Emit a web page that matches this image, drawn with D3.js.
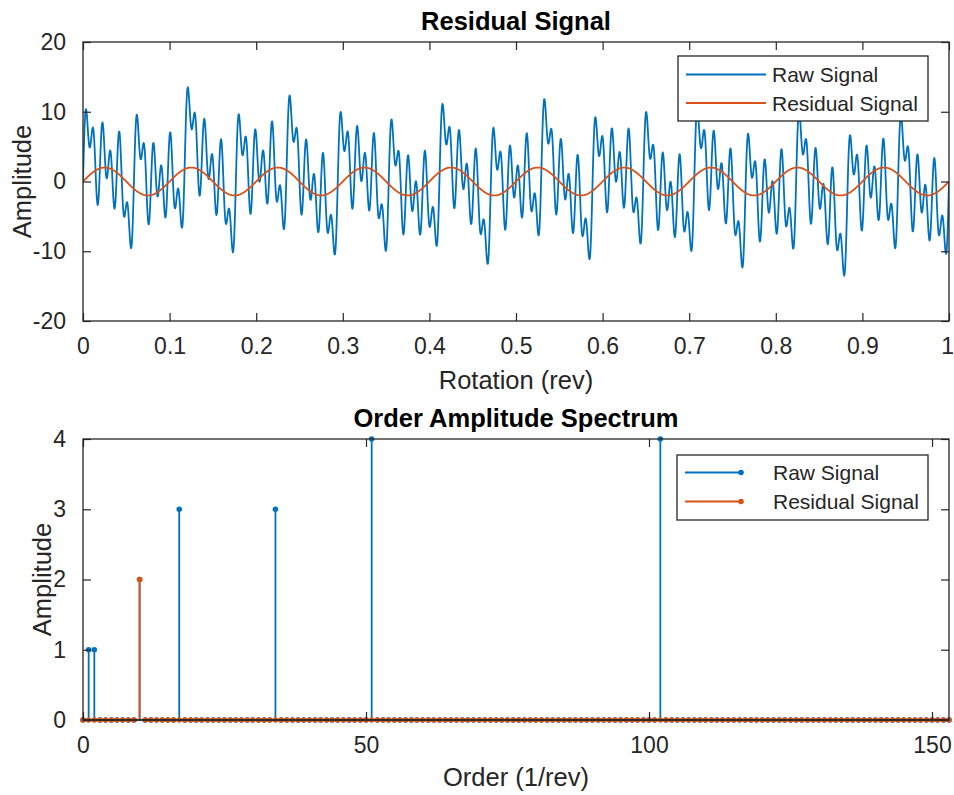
<!DOCTYPE html>
<html>
<head>
<meta charset="utf-8">
<script src="https://cdn.jsdelivr.net/npm/d3@7"></script>
<style>
  html, body { margin: 0; padding: 0; background: #fff; }
  svg { display: block; }
  text { font-family: "Liberation Sans", Arial, Helvetica, sans-serif; fill: #262626; }
</style>
</head>
<body>
<svg id="chart" width="954" height="795"></svg>
<script>
// ---- Data ----
// Order components of the raw signal (order, amplitude) as read from the spectrum stems
const rawOrders = [1, 2, 10, 17, 34, 51, 102];
const rawAmplitudes = [1, 1, 2, 3, 3, 4, 4];
// Residual signal components
const residualOrders = [10];
const residualAmplitudes = [2];
// Spectrum order axis (orders shown as stems, 1/rev resolution)
const maxOrder = 153;
// Tick labels
const topXTicks = [0, 0.1, 0.2, 0.3, 0.4, 0.5, 0.6, 0.7, 0.8, 0.9, 1];
const topYTicks = [-20, -10, 0, 10, 20];
const botXTicks = [0, 50, 100, 150];
const botYTicks = [0, 1, 2, 3, 4];
const seriesNames = ["Raw Signal", "Residual Signal"];
const colors = ["#0072BD", "#D95319"];

// Time signals are the sum of the sine components listed above (one revolution)
const nSamples = 2000;
const rotation = d3.range(nSamples + 1).map(i => i / nSamples);
function synth(orders, amps) {
  return rotation.map(r => orders.reduce((s, k, j) => s + amps[j] * Math.sin(2 * Math.PI * k * r), 0));
}
const rawSignal = synth(rawOrders, rawAmplitudes);
const residualSignal = synth(residualOrders, residualAmplitudes);

// Spectrum arrays (every order 0..maxOrder)
const orderList = d3.range(0, maxOrder + 1);
function spectrum(ordList, ampList) {
  return orderList.map(o => { const i = ordList.indexOf(o); return i >= 0 ? ampList[i] : 0; });
}
const rawSpectrum = spectrum(rawOrders, rawAmplitudes);
const residualSpectrum = spectrum(residualOrders, residualAmplitudes);

// ---- Layout ----
const svg = d3.select("#chart");
svg.append("rect").attr("width", 954).attr("height", 795).attr("fill", "#fff");
const axisColor = "#262626";
const tickLen = 8;
const tickFont = 23, labelFont = 25.5, titleFont = 25.5, legendFont = 21;

function drawAxes(g, x, y, xt, yt, xfmt, yfmt) {
  const [x0, x1] = x.range(), [y0, y1] = y.range(); // y0 bottom, y1 top
  const xa = d3.axisBottom(x).tickValues(xt).tickFormat(xfmt).tickSizeInner(-tickLen).tickSizeOuter(0).tickPadding(tickLen + 9);
  const gx = g.append("g").attr("transform", `translate(0,${y0})`).call(xa);
  const xat = d3.axisTop(x).tickValues(xt).tickFormat("").tickSizeInner(-tickLen).tickSizeOuter(0);
  const gxt = g.append("g").attr("transform", `translate(0,${y1})`).call(xat);
  const ya = d3.axisLeft(y).tickValues(yt).tickFormat(yfmt).tickSizeInner(-tickLen).tickSizeOuter(0).tickPadding(tickLen + 9);
  const gy = g.append("g").attr("transform", `translate(${x0},0)`).call(ya);
  const yar = d3.axisRight(y).tickValues(yt).tickFormat("").tickSizeInner(-tickLen).tickSizeOuter(0);
  const gyr = g.append("g").attr("transform", `translate(${x1},0)`).call(yar);
  [gx, gxt, gy, gyr].forEach(a => {
    a.select(".domain").remove();
    a.selectAll(".tick line").attr("stroke", axisColor).attr("stroke-width", 1.2);
    a.selectAll(".tick text").attr("font-size", tickFont).attr("fill", axisColor)
      .style("font-family", '"Liberation Sans", Arial, sans-serif');
  });
  // keep the last x label inside the page (it sits at the right edge, as in the reference)
  gx.selectAll(".tick text").filter(d => x(d) + 8 > 954).attr("text-anchor", "end").attr("x", 954 - x1 - 0.5);
  g.append("rect").attr("x", x0).attr("y", y1).attr("width", x1 - x0).attr("height", y0 - y1)
    .attr("fill", "none").attr("stroke", axisColor).attr("stroke-width", 1.3);
}

// ---- Top plot ----
const boxT = { l: 83, r: 949, t: 42, b: 321 };
const xT = d3.scaleLinear().domain([0, 1]).range([boxT.l, boxT.r]);
const yT = d3.scaleLinear().domain([-20, 20]).range([boxT.b, boxT.t]);
const gTop = svg.append("g");
svg.append("clipPath").attr("id", "clipTop").append("rect")
  .attr("x", boxT.l).attr("y", boxT.t).attr("width", boxT.r - boxT.l).attr("height", boxT.b - boxT.t);
const line = d3.line().x((d, i) => xT(rotation[i])).y(d => yT(d));
gTop.append("path").datum(rawSignal).attr("d", line).attr("fill", "none")
  .attr("stroke", colors[0]).attr("stroke-width", 1.8).attr("stroke-linejoin", "round")
  .attr("clip-path", "url(#clipTop)");
gTop.append("path").datum(residualSignal).attr("d", line).attr("fill", "none")
  .attr("stroke", colors[1]).attr("stroke-width", 1.8).attr("clip-path", "url(#clipTop)");
drawAxes(svg.append("g"), xT, yT, topXTicks, topYTicks, d => String(d), d => String(d));

svg.append("text").attr("x", (boxT.l + boxT.r) / 2).attr("y", 30).attr("text-anchor", "middle")
  .attr("font-size", titleFont).attr("font-weight", "bold").style("fill", "#000").text("Residual Signal");
svg.append("text").attr("x", (boxT.l + boxT.r) / 2).attr("y", 389).attr("text-anchor", "middle")
  .attr("font-size", labelFont).text("Rotation (rev)");
svg.append("text").attr("transform", `translate(31,${(boxT.t + boxT.b) / 2}) rotate(-90)`)
  .attr("text-anchor", "middle").attr("font-size", labelFont).text("Amplitude");

// top legend
const lgT = svg.append("g");
lgT.append("rect").attr("x", 678).attr("y", 56).attr("width", 250).attr("height", 65)
  .attr("fill", "#fff").attr("stroke", axisColor).attr("stroke-width", 1.3);
seriesNames.forEach((nm, i) => {
  const yy = 74.5 + i * 28.5;
  lgT.append("line").attr("x1", 686).attr("x2", 766).attr("y1", yy).attr("y2", yy)
    .attr("stroke", colors[i]).attr("stroke-width", 1.8);
  lgT.append("text").attr("x", 772).attr("y", yy + 7.5).attr("font-size", legendFont).text(nm);
});

// ---- Bottom plot ----
const boxB = { l: 83, r: 949, t: 439, b: 720 };
const xB = d3.scaleLinear().domain([0, maxOrder]).range([boxB.l, boxB.r]);
const yB = d3.scaleLinear().domain([0, 4]).range([boxB.b, boxB.t]);
const gBot = svg.append("g");
[rawSpectrum, residualSpectrum].forEach((spec, si) => {
  const gs = gBot.append("g");
  gs.selectAll("line").data(orderList).join("line")
    .attr("x1", d => xB(d)).attr("x2", d => xB(d))
    .attr("y1", yB(0)).attr("y2", (d, i) => yB(spec[i]))
    .attr("stroke", colors[si]).attr("stroke-width", 1.8);
  gs.selectAll("circle").data(orderList).join("circle")
    .attr("cx", d => xB(d)).attr("cy", (d, i) => yB(spec[i])).attr("r", 2.8)
    .attr("fill", colors[si]);
});
gBot.append("line").attr("x1", boxB.l).attr("x2", boxB.r).attr("y1", yB(0)).attr("y2", yB(0))
  .attr("stroke", axisColor).attr("stroke-width", 1.3);
drawAxes(svg.append("g"), xB, yB, botXTicks, botYTicks, d => String(d), d => String(d));

svg.append("text").attr("x", (boxB.l + boxB.r) / 2).attr("y", 427).attr("text-anchor", "middle")
  .attr("font-size", titleFont).attr("font-weight", "bold").style("fill", "#000").text("Order Amplitude Spectrum");
svg.append("text").attr("x", (boxB.l + boxB.r) / 2).attr("y", 786).attr("text-anchor", "middle")
  .attr("font-size", labelFont).text("Order (1/rev)");
svg.append("text").attr("transform", `translate(51,${(boxB.t + boxB.b) / 2}) rotate(-90)`)
  .attr("text-anchor", "middle").attr("font-size", labelFont).text("Amplitude");

// bottom legend
const lgB = svg.append("g");
lgB.append("rect").attr("x", 677).attr("y", 455).attr("width", 251).attr("height", 65)
  .attr("fill", "#fff").attr("stroke", axisColor).attr("stroke-width", 1.3);
seriesNames.forEach((nm, i) => {
  const yy = 472.5 + i * 29;
  lgB.append("line").attr("x1", 685).attr("x2", 741).attr("y1", yy).attr("y2", yy)
    .attr("stroke", colors[i]).attr("stroke-width", 1.8);
  lgB.append("circle").attr("cx", 741).attr("cy", yy).attr("r", 2.8).attr("fill", colors[i]);
  lgB.append("text").attr("x", 773).attr("y", yy + 7.5).attr("font-size", legendFont).text(nm);
});
</script>
</body>
</html>
